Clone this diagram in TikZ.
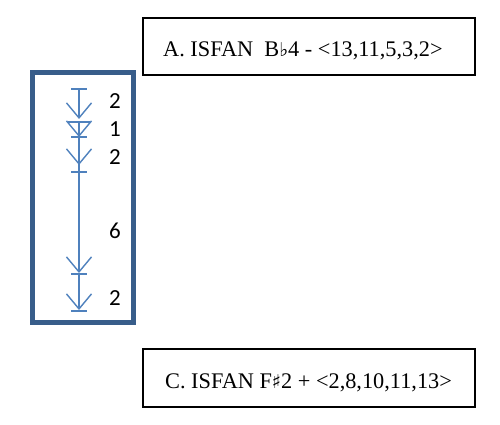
\documentclass[tikz,border=0pt]{standalone}
\usepackage{fontspec}
\setmainfont{Liberation Serif}
\newfontfamily\calib{Carlito}
\newfontfamily\dejav{DejaVu Sans}
\usetikzlibrary{arrows.meta}
\definecolor{boxblue}{HTML}{385D8A}
\definecolor{lineblue}{HTML}{4F81BD}
\begin{document}
\begin{tikzpicture}[x=1pt,y=-1pt,
  titlebox/.style={draw=black,line width=1.2pt},
  titletext/.style={anchor=base west,inner sep=0pt,font=\fontsize{22.3}{25}\selectfont},
  flow/.style={draw=lineblue,line width=1.4pt,-{Straight Barb[length=15pt,width=25pt,line width=1.4pt]}},
  tick/.style={draw=lineblue,line width=1.4pt},
  num/.style={inner sep=0pt,font=\calib\fontsize{23}{25}\selectfont}]
\useasboundingbox (0,0) rectangle (500,425);
% title boxes
\draw[titlebox] (143,18) rectangle (475,75);
\node[titletext] (ta) at (163,57) {A. ISFAN\ \ B{\dejav\fontsize{19}{22}\selectfont ♭}4 - <13,11,5,3,2>};
\draw[titlebox] (143,349) rectangle (475,407);
\node[titletext] (tc) at (165,388) {C. ISFAN F{\dejav\fontsize{19}{22}\selectfont ♯}2 + <2,8,10,11,13>};
% blue frame
\draw[boxblue,line width=5pt] (32.5,72.5) rectangle (133.5,322.5);
% tick coordinates
\coordinate (t0) at (79,89);
\coordinate (t1) at (79,122);
\coordinate (t2) at (79,137);
\coordinate (t3) at (79,172);
\coordinate (t4) at (79,274);
\coordinate (t5) at (79,311);
% segments
\draw[flow,shorten >=3pt] (t0) -- (t1);
\draw[flow] (t1) -- (t2);
\draw[flow,shorten >=7pt] (t2) -- (t3);
\draw[tick] (t2) -- (t3);
\draw[flow,shorten >=1pt] (t3) -- (t4);
\draw[flow,shorten >=1pt] (t4) -- (t5);
% ticks
\draw[tick] ([xshift=-8pt]t0) -- ([xshift=8pt]t0);
\draw[tick] ([xshift=-11pt]t1) -- ([xshift=11pt]t1);
\draw[tick] ([xshift=-8pt]t2) -- ([xshift=8pt]t2);
\draw[tick] ([xshift=-8pt]t3) -- ([xshift=8pt]t3);
\draw[tick] ([xshift=-8pt]t4) -- ([xshift=8pt]t4);
\draw[tick] ([xshift=-8pt]t5) -- ([xshift=8pt]t5);
% numbers
\node[num] (n1) at (115,101) {2};
\node[num] (n2) at (115,129) {1};
\node[num] (n3) at (115,157) {2};
\node[num] (n4) at (115,231) {6};
\node[num] (n5) at (115,298) {2};
\end{tikzpicture}
\end{document}
